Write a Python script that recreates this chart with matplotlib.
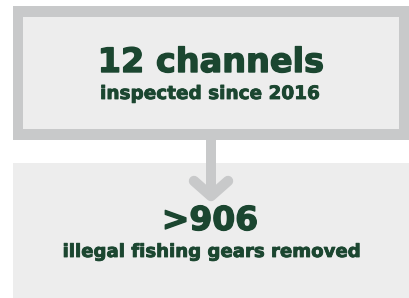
import matplotlib
matplotlib.use("Agg")
import matplotlib.pyplot as plt
import matplotlib.patheffects as pe
from matplotlib.patches import Rectangle

# ----------------------------------------------------------
# Data
# ----------------------------------------------------------
values = ["12 channels", ">906"]
captions = ["inspected since 2016", "illegal fishing gears removed"]

GREEN = "#1b4630"
BORDER = "#c8c9ca"
FILL = "#ededed"

fig = plt.figure(figsize=(4.09, 2.98), dpi=100)
ax = fig.add_axes([0, 0, 1, 1])
ax.set_xlim(0, 409)
ax.set_ylim(298, 0)
ax.axis("off")

# top box with thick border
ax.add_patch(Rectangle((13, 6), 396, 134, facecolor=BORDER, edgecolor="none"))
ax.add_patch(Rectangle((23, 17), 376, 112, facecolor=FILL, edgecolor="none"))

# bottom box
ax.add_patch(Rectangle((13, 163), 396, 135, facecolor=FILL, edgecolor="none"))

# arrow
ax.add_patch(Rectangle((205.5, 139), 10.5, 55, facecolor=BORDER, edgecolor="none"))
ax.plot([194, 211, 228], [181, 196, 181], color=BORDER, lw=7.5,
        solid_capstyle="round", solid_joinstyle="round")


# text, scaled so it spans the wanted width in pixels
def fit_text(x, y, s, width, stroke):
    t = ax.text(x, y, s, ha="center", va="baseline", color=GREEN,
                fontsize=12, fontweight="bold", family="DejaVu Sans")
    r = fig.canvas.get_renderer()
    w = t.get_window_extent(r).width
    t.set_fontsize(12 * width / w)
    # a thin stroke in the same colour makes the glyphs heavier
    t.set_path_effects([pe.withStroke(linewidth=stroke, foreground=GREEN)])
    return t


fit_text(211, 72, values[0], 225, 1.0)
fit_text(210, 99, captions[0], 219, 0.6)
fit_text(210, 230, values[1], 96, 1.0)
fit_text(211, 257, captions[1], 297, 0.6)

fig.savefig("out.png", dpi=100)
